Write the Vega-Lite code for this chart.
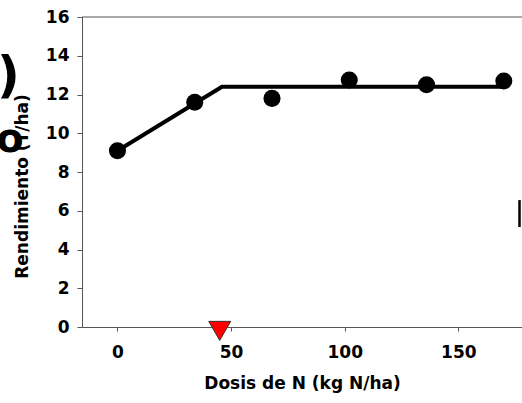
{
  "$schema": "https://vega.github.io/schema/vega-lite/v6.json",
  "autosize": {"type": "none"},
  "width": 440,
  "height": 310,
  "padding": {"left": 82, "top": 17, "right": 0, "bottom": 76},
  "background": "white",
  "config": {
    "view": {"stroke": null},
    "font": "DejaVu Sans",
    "axis": {
      "labelFont": "DejaVu Sans",
      "labelFontWeight": "bold",
      "labelFontSize": 17,
      "labelColor": "black",
      "titleFont": "DejaVu Sans",
      "titleFontWeight": "bold",
      "titleColor": "black",
      "domainColor": "#555555",
      "tickColor": "#555555",
      "grid": false
    }
  },
  "datasets": {
    "observed": [
      {"dosis": 0, "rend": 9.1},
      {"dosis": 34, "rend": 11.6},
      {"dosis": 68, "rend": 11.8},
      {"dosis": 102, "rend": 12.75},
      {"dosis": 136, "rend": 12.5},
      {"dosis": 170, "rend": 12.7}
    ],
    "fitted": [
      {"dosis": 0, "rend": 9.1},
      {"dosis": 46, "rend": 12.4},
      {"dosis": 170, "rend": 12.4}
    ],
    "optimum": [
      {"dosis": 45, "rend": -0.2}
    ]
  },
  "encoding": {
    "x": {
      "field": "dosis", "type": "quantitative",
      "scale": {"domain": [-15.6, 178], "nice": false, "zero": false},
      "axis": {
        "title": "Dosis de N (kg N/ha)",
        "titleFontSize": 17,
        "titlePadding": 15,
        "values": [0, 50, 100, 150],
        "tickCount": 10,
        "tickSize": 4,
        "labelPadding": 13
      }
    },
    "y": {
      "field": "rend", "type": "quantitative",
      "scale": {"domain": [0, 16], "nice": false, "zero": false},
      "axis": {
        "title": "Rendimiento (T/ha)",
        "titleFontSize": 17,
        "titlePadding": 14,
        "titleY": 169,
        "values": [0, 2, 4, 6, 8, 10, 12, 14, 16],
        "tickCount": 12,
        "labelOverlap": false,
        "tickSize": 5,
        "labelPadding": 8
      }
    }
  },
  "layer": [
    {
      "data": {"name": "fitted"},
      "mark": {"type": "line", "color": "black", "strokeWidth": 4, "strokeJoin": "round"}
    },
    {
      "data": {"values": [{"rend": 16}]},
      "mark": {"type": "rule", "color": "#555555", "strokeWidth": 1},
      "encoding": {"x": null}
    },
    {
      "data": {"name": "observed"},
      "mark": {"type": "point", "filled": true, "color": "black", "size": 290, "opacity": 1}
    },
    {
      "data": {"name": "optimum"},
      "mark": {"type": "point", "shape": "triangle-down", "filled": true, "fill": "#FF0000", "stroke": "#333333", "strokeWidth": 1, "size": 484, "opacity": 1, "clip": false}
    },
    {
      "data": {"values": [{"dosis": -48, "rend": 12.9, "txt": ")"}]},
      "mark": {"type": "text", "font": "DejaVu Sans", "fontWeight": "bold", "fontSize": 50, "color": "black", "align": "center", "baseline": "middle", "clip": false},
      "encoding": {"text": {"field": "txt"}}
    },
    {
      "data": {"values": [{"dosis": -47.3, "rend": 9.65, "txt": "o"}]},
      "mark": {"type": "text", "font": "DejaVu Sans", "fontWeight": "bold", "fontSize": 40, "color": "black", "align": "center", "baseline": "middle", "clip": false},
      "encoding": {"text": {"field": "txt"}}
    },
    {
      "data": {"values": [{"dosis": 176.9, "rend": 5.16, "hi": 6.55}]},
      "mark": {"type": "rule", "color": "black", "strokeWidth": 2.5, "clip": false},
      "encoding": {"y2": {"field": "hi"}}
    }
  ]
}
